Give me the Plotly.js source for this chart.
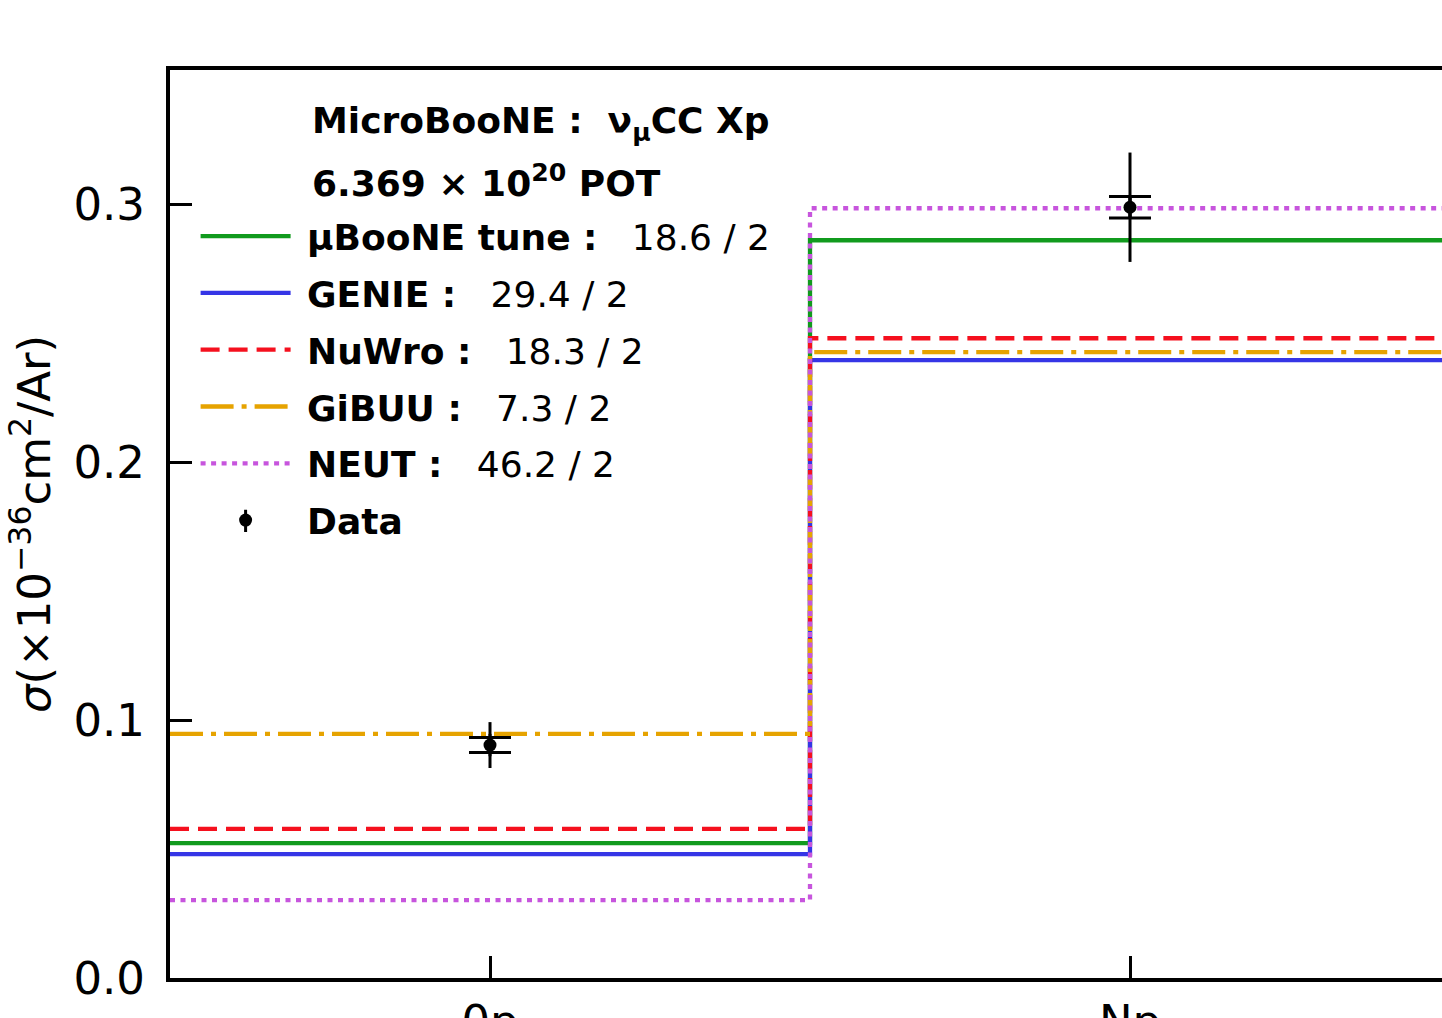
<!DOCTYPE html>
<html>
<head>
<meta charset="utf-8">
<script src="https://cdn.plot.ly/plotly-3.0.1.min.js"></script>
<style>
  html, body { margin: 0; padding: 0; overflow: hidden; background: #fff; }
  #chart { width: 1480px; height: 1100px; }
</style>
</head>
<body>
<div id="chart"></div>
<script>
// Bin edges and category labels for the proton-multiplicity bins
const binEdges = [0, 1, 2];
const binCenters = [0.5, 1.5];
const binLabels = ['0p', 'Np'];

// Measured cross section (10^-36 cm^2 / Ar) with total and statistical uncertainties
const dataValues = [0.0903, 0.2988];
const dataTotalErr = [0.0089, 0.0212];
const dataStatErr = [0.0029, 0.0042];

// Generator predictions per bin
const tuneValues = [0.0523, 0.2860];
const genieValues = [0.0480, 0.2395];
const nuwroValues = [0.0578, 0.2480];
const gibuuValues = [0.0946, 0.2426];
const neutValues = [0.0302, 0.2984];

// Legend labels with chi2 / ndf
const modelNames = ['μBooNE tune', 'GENIE', 'NuWro', 'GiBUU', 'NEUT'];
const modelChi2 = ['18.6 / 2', '29.4 / 2', '18.3 / 2', '7.3 / 2', '46.2 / 2'];
const modelColors = ['#119b1e', '#3535e6', '#f5101e', '#e6a300', '#c755dd'];
const modelDashes = ['solid', 'solid', '19px,9px', '33px,8px,5px,8px', '5px,5.5px'];
const modelValues = [tuneValues, genieValues, nuwroValues, gibuuValues, neutValues];

const FONT = 'DejaVu Sans, Liberation Sans, sans-serif';
const NBSP = '\u00a0';

// Step histogram: repeat the last bin value so the final edge is closed
function stepY(vals) { return vals.concat([vals[vals.length - 1]]); }

const traces = modelValues.map((vals, i) => ({
  type: 'scatter',
  mode: 'lines',
  x: binEdges,
  y: stepY(vals),
  line: { shape: 'hv', color: modelColors[i], width: 4.3, dash: modelDashes[i] },
  name: NBSP + '<b>' + modelNames[i] + NBSP + ':</b>' + NBSP + NBSP + NBSP + modelChi2[i],
  legendgroup: 'g' + i,
  hoverinfo: 'skip'
}));

// Statistical error caps (no legend entry)
traces.push({
  type: 'scatter',
  mode: 'markers',
  x: binCenters,
  y: dataValues,
  marker: { color: 'black', size: 1, opacity: 0 },
  error_y: { type: 'data', array: dataStatErr, visible: true, color: 'black', thickness: 3, width: 21 },
  showlegend: false,
  hoverinfo: 'skip'
});

// Vertical bar glyph for the data legend key (hidden under the total error bar)
traces.push({
  type: 'scatter',
  mode: 'markers',
  x: binCenters,
  y: dataValues,
  marker: { symbol: 'line-ns', size: 16, color: 'black', line: { color: 'black', width: 3 } },
  name: NBSP,
  legend: 'legend2',
  hoverinfo: 'skip'
});

// Data points with total uncertainty
traces.push({
  type: 'scatter',
  mode: 'markers',
  x: binCenters,
  y: dataValues,
  marker: { color: 'black', size: 13 },
  error_y: { type: 'data', array: dataTotalErr, visible: true, color: 'black', thickness: 3, width: 0 },
  name: NBSP + '<b>Data</b>',
  legendgroup: 'data',
  hoverinfo: 'skip'
});

const legendCommon = {
  xanchor: 'left', yanchor: 'top',
  bgcolor: 'rgba(0,0,0,0)',
  font: { family: FONT, size: 36, color: '#000' },
  itemwidth: 90
};

const layout = {
  width: 1480,
  height: 1100,
  margin: { l: 170, r: 30, t: 70, b: 122 },
  paper_bgcolor: '#ffffff',
  plot_bgcolor: '#ffffff',
  font: { family: FONT, color: '#000', size: 45 },
  showlegend: true,
  legend: Object.assign({}, legendCommon, { x: 0.02, y: 0.85, traceorder: 'grouped', tracegroupgap: 7 }),
  legend2: Object.assign({}, legendCommon, { x: 0.02, y: 0.5364, traceorder: 'normal' }),
  xaxis: {
    range: [0, 2],
    tickmode: 'array',
    tickvals: binCenters,
    ticktext: binLabels,
    ticks: 'inside',
    ticklen: 22,
    tickwidth: 3,
    tickcolor: '#000',
    ticklabelstandoff: 1,
    showline: true,
    linewidth: 4,
    linecolor: '#000',
    mirror: true,
    showgrid: false,
    zeroline: false,
    tickfont: { family: FONT, size: 45, color: '#000' }
  },
  yaxis: {
    range: [0, 0.352],
    dtick: 0.1,
    tick0: 0,
    tickformat: '.1f',
    ticks: 'inside',
    ticklen: 22,
    tickwidth: 3,
    tickcolor: '#000',
    ticklabelstandoff: 12,
    showline: true,
    linewidth: 4,
    linecolor: '#000',
    mirror: true,
    showgrid: false,
    zeroline: false,
    tickfont: { family: FONT, size: 45, color: '#000' },
    title: {
      text: '<i>σ</i>(×10<sup>−36</sup>cm<sup>2</sup>/Ar)',
      font: { family: FONT, size: 45, color: '#000' },
      standoff: 10
    }
  },
  annotations: [
    {
      xref: 'paper', yref: 'paper', x: 0.1094, y: 0.9415,
      xanchor: 'left', yanchor: 'middle', showarrow: false,
      text: '<b>MicroBooNE' + NBSP + ':' + NBSP + NBSP + 'ν<sub>μ</sub>CC Xp</b>',
      font: { family: FONT, size: 36, color: '#000' }
    },
    {
      xref: 'paper', yref: 'paper', x: 0.1094, y: 0.8778,
      xanchor: 'left', yanchor: 'middle', showarrow: false,
      text: '<b>6.369' + NBSP + '×' + NBSP + '10<sup>20</sup>' + NBSP + 'POT</b>',
      font: { family: FONT, size: 36, color: '#000' }
    }
  ]
};

Plotly.newPlot('chart', traces, layout, { displayModeBar: false, staticPlot: true });
</script>
</body>
</html>
